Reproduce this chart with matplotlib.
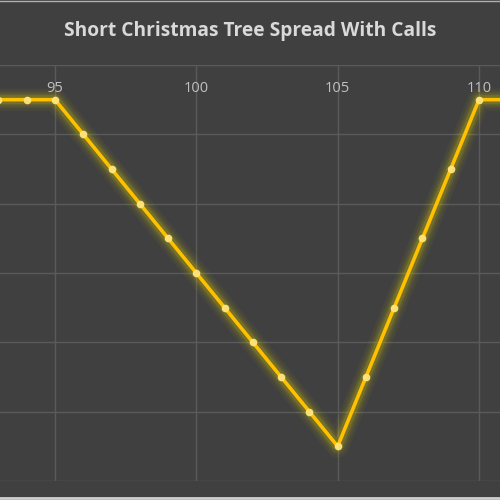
import matplotlib
matplotlib.use("Agg")
import matplotlib.pyplot as plt
from matplotlib.lines import Line2D

# stock price at expiry and profit/loss of the spread
price = [92, 93, 94, 95, 96, 97, 98, 99, 100, 101, 102, 103, 104, 105,
         106, 107, 108, 109, 110, 111]
profit = [-1, -1, -1, -1, -2, -3, -4, -5, -6, -7, -8, -9, -10, -11,
          -9, -7, -5, -3, -1, -1]
xticks = [95, 100, 105, 110]
title = "Short Christmas Tree Spread With Calls"

bg = "#404040"
grid = "#5a5a5a"
gold = "#FFC000"

fig = plt.figure(figsize=(5, 5), dpi=100, facecolor=bg)
ax = fig.add_axes([0, 0.038, 1, 0.832])
ax.set_facecolor(bg)

ax.set_xlim(93.055, 110.743)
ax.set_ylim(-12, 0)
ax.set_xticks(xticks)
ax.set_yticks(range(-12, 1, 2))
ax.grid(True, color=grid, linewidth=1)
ax.set_axisbelow(True)
for s in ax.spines.values():
    s.set_visible(False)

# labels sit just under the zero line, inside the plot area
ax.xaxis.tick_top()
ax.tick_params(axis="x", length=0, pad=-22, labelsize=10.5, labelcolor="#c0c0c0")
ax.tick_params(axis="y", length=0, labelleft=False)
for lab in ax.get_xticklabels():
    lab.set_fontfamily("Open Sans")

# soft glow under the line
for w, a in [(16, 0.05), (12, 0.07), (9, 0.10), (6.5, 0.16)]:
    ax.plot(price, profit, color="#e0d000", linewidth=w, alpha=a,
            solid_capstyle="round", solid_joinstyle="round")
ax.plot(price, profit, color=gold, linewidth=2.6, solid_joinstyle="miter")
ax.plot(price, profit, linestyle="none", marker="o", markersize=4.5,
        markerfacecolor="#ffe680", markeredgecolor="#ffe680", alpha=0.9)

fig.text(0.5, 0.938, title, ha="center", va="center", color="#d9d9d9",
         fontsize=13.8, fontweight="bold", family="Open Sans")

# light image border at top and bottom
fig.add_artist(Line2D([0, 1], [0.998, 0.998], color="#b0b0b0", linewidth=1))
fig.add_artist(Line2D([0, 1], [0.004, 0.004], color="#d0d0d0", linewidth=2))

fig.savefig("out.png", dpi=100, facecolor=bg)
